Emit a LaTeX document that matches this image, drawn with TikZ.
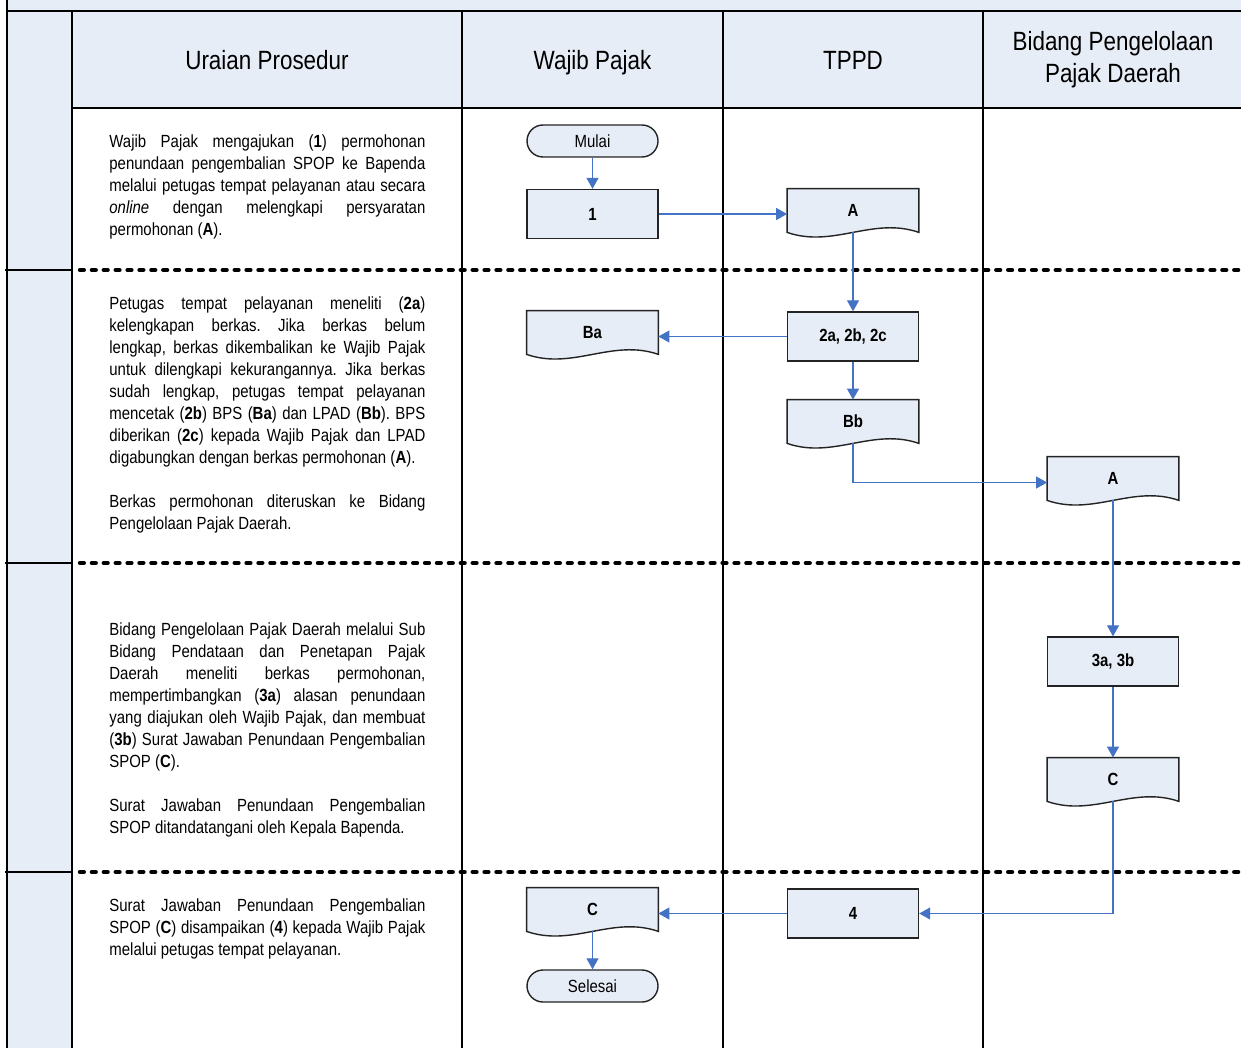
\documentclass[tikz,border=0pt]{standalone}
\usepackage{fontspec}
\setmainfont{Liberation Sans}[FakeStretch=0.85]
\usetikzlibrary{calc,arrows.meta}
\definecolor{lane}{RGB}{231,237,247}
\definecolor{flow}{RGB}{68,114,196}
\definecolor{edge}{RGB}{35,35,35}
\pgfdeclarelayer{back}
\pgfdeclarelayer{docs}
\pgfsetlayers{back,docs,main}
\frenchspacing

\begin{document}
\begin{tikzpicture}[x=0.5pt,y=-0.5pt,
  grid/.style={line width=0.8pt,black},
  sep/.style={line width=2.2pt,dash pattern=on 1.9pt off 4.05pt,line cap=round},
  shapeline/.style={draw=edge,line width=0.7pt,fill=lane},
  proc/.style={shapeline,minimum width=65.5pt,minimum height=24.5pt,inner sep=0pt,
    font=\bfseries\fontsize{8.8}{10}\selectfont},
  docbox/.style={minimum width=65.5pt,minimum height=21.5pt,inner sep=0pt,
    font=\bfseries\fontsize{8.8}{10}\selectfont},
  term/.style={shapeline,rounded corners=8pt,minimum width=65.5pt,minimum height=16pt,
    inner sep=0pt,font=\fontsize{8.8}{10}\selectfont},
  flowline/.style={draw=flow,line width=0.65pt,-{Triangle[length=5.5pt,width=6pt]}},
  head/.style={font=\fontsize{13.2}{16}\selectfont,align=center},
  headline/.style={head,text height=9.6pt,text depth=2.8pt},
  body/.style={anchor=north west,inner sep=0pt,text width=158pt,align=justify,
    font=\fontsize{8.8}{11}\selectfont}
]
\useasboundingbox (0,0) rectangle (1241,1048);

% lane header and left margin fills
\fill[lane] (7,0) rectangle (1241,108);
\fill[lane] (7,11) rectangle (72,1048);

% table frame
\draw[grid] (7,0) -- (7,1048);
\draw[grid] (7,11) -- (1241,11);
\foreach \x in {72,462,723,983} \draw[grid] (\x,11) -- (\x,1048);
\draw[grid] (72,108) -- (1241,108);
\foreach \y in {270,563,872}{
  \draw[grid] (5,\y) -- (72,\y);
  \draw[sep] (80,\y) -- (1241,\y);
}

% column headers
\node[headline] (h1) at (267,63) {Uraian Prosedur};
\node[headline] (h2) at (592.5,63) {Wajib Pajak};
\node[headline] (h3) at (853,63) {TPPD};
\node[head] (h4) at (1113,60) {Bidang Pengelolaan\\Pajak Daerah};

% procedure descriptions
\node[body] (t1) at (109,134) {%
Wajib Pajak mengajukan (\textbf{1}) permohonan\linebreak
penundaan pengembalian SPOP ke Bapenda\linebreak
melalui petugas tempat pelayanan atau secara\linebreak
\textit{online} dengan melengkapi persyaratan\linebreak
permohonan (\textbf{A}).};

\node[body] (t2) at (109,296) {%
Petugas tempat pelayanan meneliti (\textbf{2a})\linebreak
kelengkapan berkas. Jika berkas belum\linebreak
lengkap, berkas dikembalikan ke Wajib Pajak\linebreak
untuk dilengkapi kekurangannya. Jika berkas\linebreak
sudah lengkap, petugas tempat pelayanan\linebreak
mencetak (\textbf{2b}) BPS (\textbf{Ba}) dan LPAD (\textbf{Bb}). BPS\linebreak
diberikan (\textbf{2c}) kepada Wajib Pajak dan LPAD\linebreak
digabungkan dengan berkas permohonan (\textbf{A}).\par\vspace{11pt}
Berkas permohonan diteruskan ke Bidang\linebreak
Pengelolaan Pajak Daerah.};

\node[body] (t3) at (109,622) {%
Bidang Pengelolaan Pajak Daerah melalui Sub\linebreak
Bidang Pendataan dan Penetapan Pajak\linebreak
Daerah meneliti berkas permohonan,\linebreak
mempertimbangkan (\textbf{3a}) alasan penundaan\linebreak
yang diajukan oleh Wajib Pajak, dan membuat\linebreak
(\textbf{3b}) Surat Jawaban Penundaan Pengembalian\linebreak
SPOP (\textbf{C}).\par\vspace{11pt}
Surat Jawaban Penundaan Pengembalian\linebreak
SPOP ditandatangani oleh Kepala Bapenda.};

\node[body] (t4) at (109,898) {%
Surat Jawaban Penundaan Pengembalian\linebreak
SPOP (\textbf{C}) disampaikan (\textbf{4}) kepada Wajib Pajak\linebreak
melalui petugas tempat pelayanan.};

% flow shapes
\node[term] (mulai) at (592.5,141) {Mulai};
\node[proc] (p1) at (592.5,214) {1};
\node[docbox] (A1) at (853,210.5) {A};
\node[proc] (p2) at (853,336.5) {2a, 2b, 2c};
\node[docbox] (Ba) at (592.5,332.5) {Ba};
\node[docbox] (Bb) at (853,421.5) {Bb};
\node[docbox] (A2) at (1113,478.5) {A};
\node[proc] (p3) at (1113,661.5) {3a, 3b};
\node[docbox] (C1) at (1113,779.5) {C};
\node[proc] (p4) at (853,913.5) {4};
\node[docbox] (C2) at (592.5,909.5) {C};
\node[term] (selesai) at (592.5,986) {Selesai};

% document outlines with wavy lower edge
\begin{pgfonlayer}{docs}
\foreach \n in {A1,Ba,Bb,A2,C1,C2}{
  \draw[shapeline] (\n.south east) -- (\n.north east) -- (\n.north west) -- (\n.south west)
    .. controls ($(\n.south west)!0.35!(\n.south east)+(0,-8pt)$)
    and ($(\n.south west)!0.65!(\n.south east)+(0,8pt)$) .. (\n.south east) -- cycle;
}
\end{pgfonlayer}

% connectors
\draw[flowline] (mulai) -- (p1);
\draw[flowline] (p1.east) -- (p1.east -| A1.west);
\draw[flowline] (A1.south) -- (p2.north);
\draw[flowline] (p2.west) -- (p2.west -| Ba.east);
\draw[flowline] (p2.south) -- (Bb.north);
\draw[flowline] (Bb.south) |- ([yshift=-2pt]A2.west);
\draw[flowline] (A2.south) -- (p3.north);
\draw[flowline] (p3.south) -- (C1.north);
\draw[flowline] (C1.south) |- (p4.east);
\draw[flowline] (p4.west) -- (p4.west -| C2.east);
\draw[flowline] (C2.south) -- (selesai.north);
\end{tikzpicture}
\end{document}
